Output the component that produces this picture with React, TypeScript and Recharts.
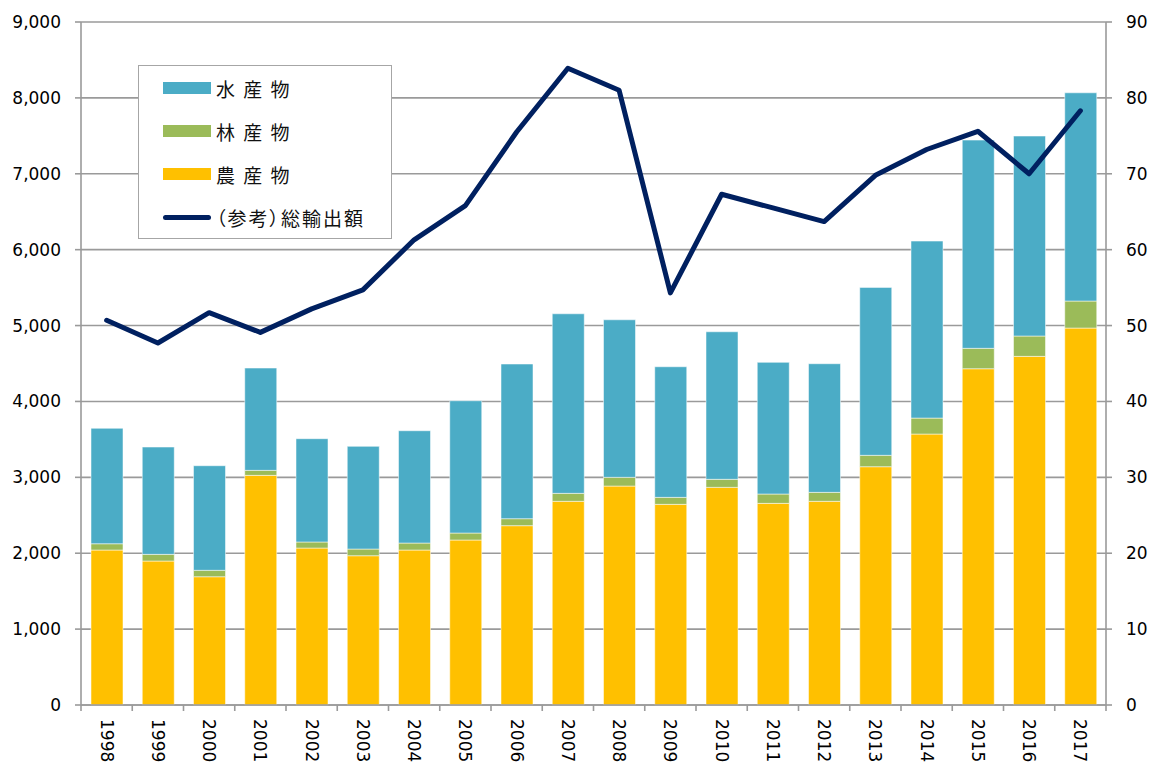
import { ComposedChart, Bar, Line, XAxis, YAxis, CartesianGrid, Legend } from 'recharts';

const years = ['1998', '1999', '2000', '2001', '2002', '2003', '2004', '2005', '2006', '2007',
    '2008', '2009', '2010', '2011', '2012', '2013', '2014', '2015', '2016', '2017'];

// 農産物 / 林産物 / 水産物 (億円, left axis)
const agriculture = [2042, 1897, 1690, 3026, 2068, 1967, 2042, 2174, 2363, 2684,
    2885, 2644, 2868, 2657, 2684, 3140, 3570, 4431, 4594, 4967];
const forestry = [83, 88, 85, 66, 80, 88, 92, 92, 92, 105,
    115, 92, 106, 123, 118, 150, 211, 269, 268, 356];
const fishery = [1521, 1414, 1378, 1348, 1361, 1353, 1480, 1743, 2038, 2366,
    2076, 1721, 1944, 1735, 1695, 2213, 2332, 2744, 2635, 2744];

// (参考)総輸出額 (兆円, right axis)
const totalExports = [50.7, 47.7, 51.7, 49.1, 52.2, 54.7, 61.3, 65.8, 75.5, 83.9,
    81.0, 54.3, 67.3, 65.5, 63.7, 69.8, 73.2, 75.6, 70.0, 78.3];

const leftTicks = [0, 1000, 2000, 3000, 4000, 5000, 6000, 7000, 8000, 9000];
const rightTicks = [0, 10, 20, 30, 40, 50, 60, 70, 80, 90];

const COLORS = {
    fishery: '#4BACC6',
    forestry: '#9BBB59',
    agriculture: '#FFC000',
    total: '#002060',
    grid: '#9a9a9a',
};

const legendItems = [
    { label: '水 産 物', color: COLORS.fishery, kind: 'bar' },
    { label: '林 産 物', color: COLORS.forestry, kind: 'bar' },
    { label: '農 産 物', color: COLORS.agriculture, kind: 'bar' },
    { label: '（参考）総輸出額', color: COLORS.total, kind: 'line' },
];

const data = years.map((year, i) => ({
    year,
    agriculture: agriculture[i],
    forestry: forestry[i],
    fishery: fishery[i],
    total: totalExports[i],
}));

const WIDTH = 1154;
const HEIGHT = 762;
const LEFT_W = 81;
const RIGHT_W = 48;
const BAND = (WIDTH - LEFT_W - RIGHT_W) / years.length;
const NUM_FONT = '"DejaVu Sans", sans-serif';

function YearTick(props: any) {
    const { x, y, payload, index } = props;
    const axisY = y - 14;
    const half = BAND / 2;
    return (
        <g>
            <line x1={x - half} x2={x - half} y1={axisY} y2={axisY + 6} stroke={COLORS.grid} strokeWidth={1.6} />
            {index === years.length - 1 && (
                <line x1={x + half} x2={x + half} y1={axisY} y2={axisY + 6} stroke={COLORS.grid} strokeWidth={1.6} />
            )}
            <text
                x={x}
                y={y}
                transform={`rotate(90, ${x}, ${y})`}
                textAnchor="start"
                dominantBaseline="central"
                fontFamily={NUM_FONT}
                fontSize={17}
                fill="#000"
            >
                {payload.value}
            </text>
        </g>
    );
}

function ChartLegend() {
    return (
        <div
            style={{
                width: 254,
                height: 174,
                boxSizing: 'border-box',
                border: '1px solid #a6a6a6',
                background: '#fff',
                position: 'relative',
                fontFamily: '"Noto Sans CJK JP", sans-serif',
            }}
        >
            {legendItems.map((item, i) => (
                <div
                    key={item.label}
                    style={{ position: 'absolute', left: 24, top: 22 + i * 43 - 12, height: 24, display: 'flex', alignItems: 'center' }}
                >
                    {item.kind === 'bar' ? (
                        <div style={{ width: 48, height: 12, background: item.color }} />
                    ) : (
                        <div style={{ width: 48, height: 5, background: item.color, borderRadius: 3 }} />
                    )}
                    <span
                        style={{
                            marginLeft: 5,
                            fontSize: 19,
                            letterSpacing: 2,
                            color: '#111',
                            whiteSpace: 'nowrap',
                            fontFeatureSettings: '"palt"',
                        }}
                    >
                        {item.label}
                    </span>
                </div>
            ))}
        </div>
    );
}

export default function App() {
    return (
        <div style={{ position: 'absolute', left: 0, top: 0, background: '#fff' }}>
            <ComposedChart
                width={WIDTH}
                height={HEIGHT}
                data={data}
                margin={{ top: 22, right: 0, bottom: 0, left: 0 }}
            >
                <CartesianGrid vertical={false} stroke={COLORS.grid} strokeWidth={1.6} yAxisId="left" />
                <XAxis
                    dataKey="year"
                    height={57}
                    interval={0}
                    tickLine={false}
                    tickSize={6}
                    tickMargin={8}
                    axisLine={{ stroke: COLORS.grid, strokeWidth: 1.6 }}
                    tick={<YearTick />}
                />
                <YAxis
                    yAxisId="left"
                    width={LEFT_W}
                    domain={[0, 9000]}
                    ticks={leftTicks}
                    tickFormatter={(v: number) => v.toLocaleString('en-US')}
                    tickSize={6}
                    tickMargin={14}
                    tickLine={{ stroke: COLORS.grid, strokeWidth: 1.6 }}
                    axisLine={{ stroke: COLORS.grid, strokeWidth: 1.6 }}
                    tick={{ fill: '#000', fontSize: 17, fontFamily: NUM_FONT }}
                />
                <YAxis
                    yAxisId="right"
                    orientation="right"
                    width={RIGHT_W}
                    domain={[0, 90]}
                    ticks={rightTicks}
                    tickSize={6}
                    tickMargin={14}
                    tickLine={{ stroke: COLORS.grid, strokeWidth: 1.6 }}
                    axisLine={{ stroke: COLORS.grid, strokeWidth: 1.6 }}
                    tick={{ fill: '#000', fontSize: 17, fontFamily: NUM_FONT }}
                />
                <Legend
                    layout="vertical"
                    align="center"
                    verticalAlign="middle"
                    wrapperStyle={{ left: 138, top: 65, width: 254, height: 174 }}
                    content={() => <ChartLegend />}
                />
                <Bar yAxisId="left" dataKey="agriculture" name="農産物" stackId="a" fill={COLORS.agriculture}
                    barSize={32} stroke="rgba(255,255,255,0.5)" strokeWidth={1} isAnimationActive={false} />
                <Bar yAxisId="left" dataKey="forestry" name="林産物" stackId="a" fill={COLORS.forestry}
                    barSize={32} stroke="rgba(255,255,255,0.5)" strokeWidth={1} isAnimationActive={false} />
                <Bar yAxisId="left" dataKey="fishery" name="水産物" stackId="a" fill={COLORS.fishery}
                    barSize={32} stroke="rgba(255,255,255,0.5)" strokeWidth={1} isAnimationActive={false} />
                <Line
                    yAxisId="right"
                    type="linear"
                    dataKey="total"
                    name="（参考）総輸出額"
                    stroke={COLORS.total}
                    strokeWidth={5}
                    strokeLinejoin="round"
                    strokeLinecap="round"
                    dot={false}
                    activeDot={false}
                    isAnimationActive={false}
                />
            </ComposedChart>
        </div>
    );
}
